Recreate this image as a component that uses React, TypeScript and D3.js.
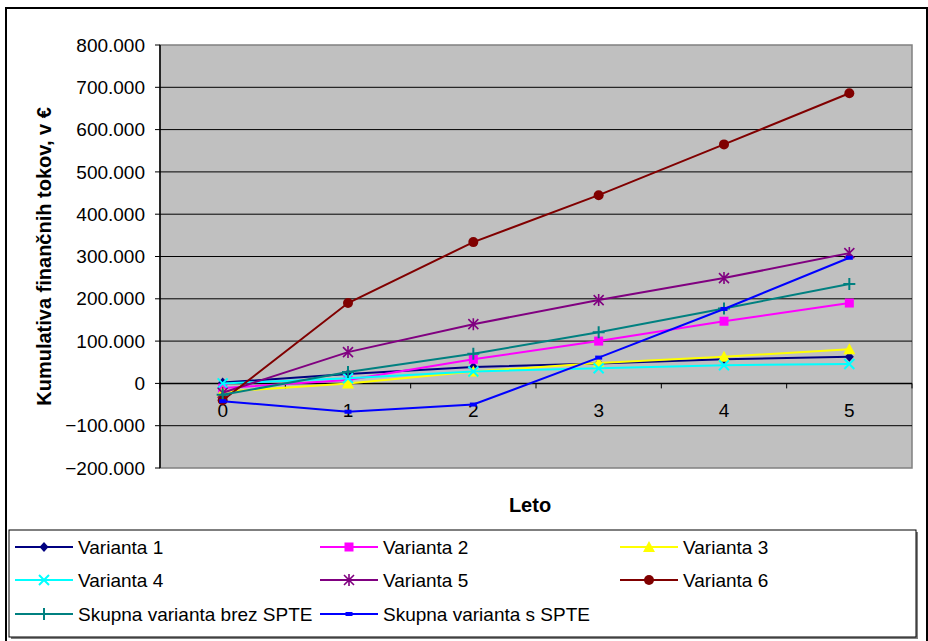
import React from "react";
import * as d3 from "d3";

const years = ["0", "1", "2", "3", "4", "5"];
const yTicks = [800000, 700000, 600000, 500000, 400000, 300000, 200000, 100000, 0, -100000, -200000];

const varianta1 = [2000, 22000, 39000, 47000, 57000, 63000];
const varianta2 = [-11000, 8000, 57000, 100000, 147000, 190000];
const varianta3 = [-20000, 0, 28000, 48000, 63000, 81000];
const varianta4 = [0, 12000, 28000, 36000, 43000, 46000];
const varianta5 = [-22000, 74000, 140000, 197000, 249000, 308000];
const varianta6 = [-40000, 190000, 334000, 445000, 565000, 686000];
const skupnaBrez = [-27000, 27000, 70000, 121000, 177000, 235000];
const skupnaS = [-42000, -67000, -50000, 61000, 176000, 297000];

const seriesNames = [
  "Varianta 1",
  "Varianta 2",
  "Varianta 3",
  "Varianta 4",
  "Varianta 5",
  "Varianta 6",
  "Skupna varianta brez SPTE",
  "Skupna varianta s SPTE",
];
const seriesColors = ["#000080", "#FF00FF", "#FFFF00", "#00FFFF", "#800080", "#800000", "#008080", "#0000FF"];
const seriesMarkers = ["diamond", "square", "triangle", "x", "asterisk", "circle", "plus", "dash"];
const seriesValues = [varianta1, varianta2, varianta3, varianta4, varianta5, varianta6, skupnaBrez, skupnaS];

const FONT = "'Liberation Sans', Arial, sans-serif";

function Marker({ type, x, y, color }: { type: string; x: number; y: number; color: string }) {
  switch (type) {
    case "diamond":
      return <path d={`M${x},${y - 5}L${x + 4.5},${y}L${x},${y + 5}L${x - 4.5},${y}Z`} fill={color} />;
    case "square":
      return <rect x={x - 4.5} y={y - 4.5} width={9} height={9} fill={color} />;
    case "triangle":
      return <path d={`M${x},${y - 6}L${x + 6},${y + 5}L${x - 6},${y + 5}Z`} fill={color} />;
    case "x":
      return (
        <path d={`M${x - 5},${y - 5}L${x + 5},${y + 5}M${x + 5},${y - 5}L${x - 5},${y + 5}`} stroke={color} strokeWidth={2} />
      );
    case "asterisk":
      return (
        <path
          d={`M${x - 5},${y - 5}L${x + 5},${y + 5}M${x + 5},${y - 5}L${x - 5},${y + 5}M${x},${y - 6}L${x},${y + 6}`}
          stroke={color}
          strokeWidth={1.6}
        />
      );
    case "circle":
      return <circle cx={x} cy={y} r={5} fill={color} />;
    case "plus":
      return <path d={`M${x - 6},${y}L${x + 6},${y}M${x},${y - 6}L${x},${y + 6}`} stroke={color} strokeWidth={2} />;
    case "dash":
      return <rect x={x - 3.5} y={y - 2} width={7} height={4} fill={color} />;
    default:
      return null;
  }
}

export default function App() {
  const W = 928;
  const H = 641;
  const left = 160;
  const right = 912;
  const top = 45;
  const bottom = 468;

  const x = d3.scaleBand<string>().domain(years).range([left, right]);
  const y = d3.scaleLinear().domain([-200000, 800000]).range([bottom, top]);
  const fmt = (v: number) => d3.format(",")(v).replace(/,/g, ".");

  const line = d3
    .line<number>()
    .x((_, i) => (x(years[i]) as number) + x.bandwidth() / 2)
    .y((d) => y(d));

  const legendCols = [15, 320, 620];
  const legendRows = [547, 580, 614];

  return (
    <svg width={W} height={H} style={{ position: "absolute", left: 0, top: 0, background: "#fff" }} fontFamily={FONT}>
      <rect x={0} y={0} width={W} height={H} fill="#fff" />
      {/* outer frame */}
      <rect x={6} y={8} width={921} height={640} fill="none" stroke="#000" strokeWidth={2} />

      {/* plot area */}
      <rect x={left} y={top} width={right - left} height={bottom - top} fill="#C0C0C0" stroke="#808080" strokeWidth={1.5} />
      {yTicks.map((t) => (
        <g key={t}>
          {t !== 800000 && t !== -200000 && t !== 0 && (
            <line x1={left} x2={right} y1={y(t)} y2={y(t)} stroke="#000" strokeWidth={1} />
          )}
          <line x1={left - 5} x2={left} y1={y(t)} y2={y(t)} stroke="#000" strokeWidth={1} />
          <text x={145} y={y(t)} dy="0.35em" textAnchor="end" fontSize={19} fill="#000">
            {fmt(t)}
          </text>
        </g>
      ))}
      {/* value axis */}
      <line x1={left} x2={left} y1={top} y2={bottom} stroke="#000" strokeWidth={1.5} />
      {/* category axis at zero */}
      <line x1={left} x2={right} y1={y(0)} y2={y(0)} stroke="#000" strokeWidth={1.5} />
      {years.map((yr, i) => {
        const bx = x(yr) as number;
        return (
          <g key={yr}>
            <line x1={bx} x2={bx} y1={y(0)} y2={y(0) + 5} stroke="#000" strokeWidth={1} />
            {i === years.length - 1 && (
              <line x1={bx + x.bandwidth()} x2={bx + x.bandwidth()} y1={y(0)} y2={y(0) + 5} stroke="#000" strokeWidth={1} />
            )}
            <text x={bx + x.bandwidth() / 2} y={417} textAnchor="middle" fontSize={19} fill="#000">
              {yr}
            </text>
          </g>
        );
      })}

      {/* series */}
      {seriesValues.map((vals, s) => (
        <g key={s}>
          <path d={line(vals) as string} fill="none" stroke={seriesColors[s]} strokeWidth={2} />
          {vals.map((v, i) => (
            <Marker
              key={i}
              type={seriesMarkers[s]}
              x={(x(years[i]) as number) + x.bandwidth() / 2}
              y={y(v)}
              color={seriesColors[s]}
            />
          ))}
        </g>
      ))}

      {/* axis titles */}
      <text
        transform={`translate(51,${(top + bottom) / 2}) rotate(-90)`}
        textAnchor="middle"
        fontSize={20}
        fontWeight="bold"
        fill="#000"
      >
        Kumulativa finančnih tokov, v €
      </text>
      <text x={530} y={512} textAnchor="middle" fontSize={20} fontWeight="bold" fill="#000">
        Leto
      </text>

      {/* legend */}
      <rect x={11} y={532} width={907} height={107} fill="#808080" />
      <rect x={9} y={530} width={907} height={107} fill="#fff" stroke="#000" strokeWidth={1} />
      {seriesNames.map((name, s) => {
        const cx = legendCols[s % 3];
        const cy = legendRows[Math.floor(s / 3)];
        return (
          <g key={name}>
            <line x1={cx} x2={cx + 58} y1={cy} y2={cy} stroke={seriesColors[s]} strokeWidth={2} />
            <Marker type={seriesMarkers[s]} x={cx + 29} y={cy} color={seriesColors[s]} />
            <text x={cx + 63} y={cy} dy="0.35em" fontSize={19} fill="#000">
              {name}
            </text>
          </g>
        );
      })}
    </svg>
  );
}
